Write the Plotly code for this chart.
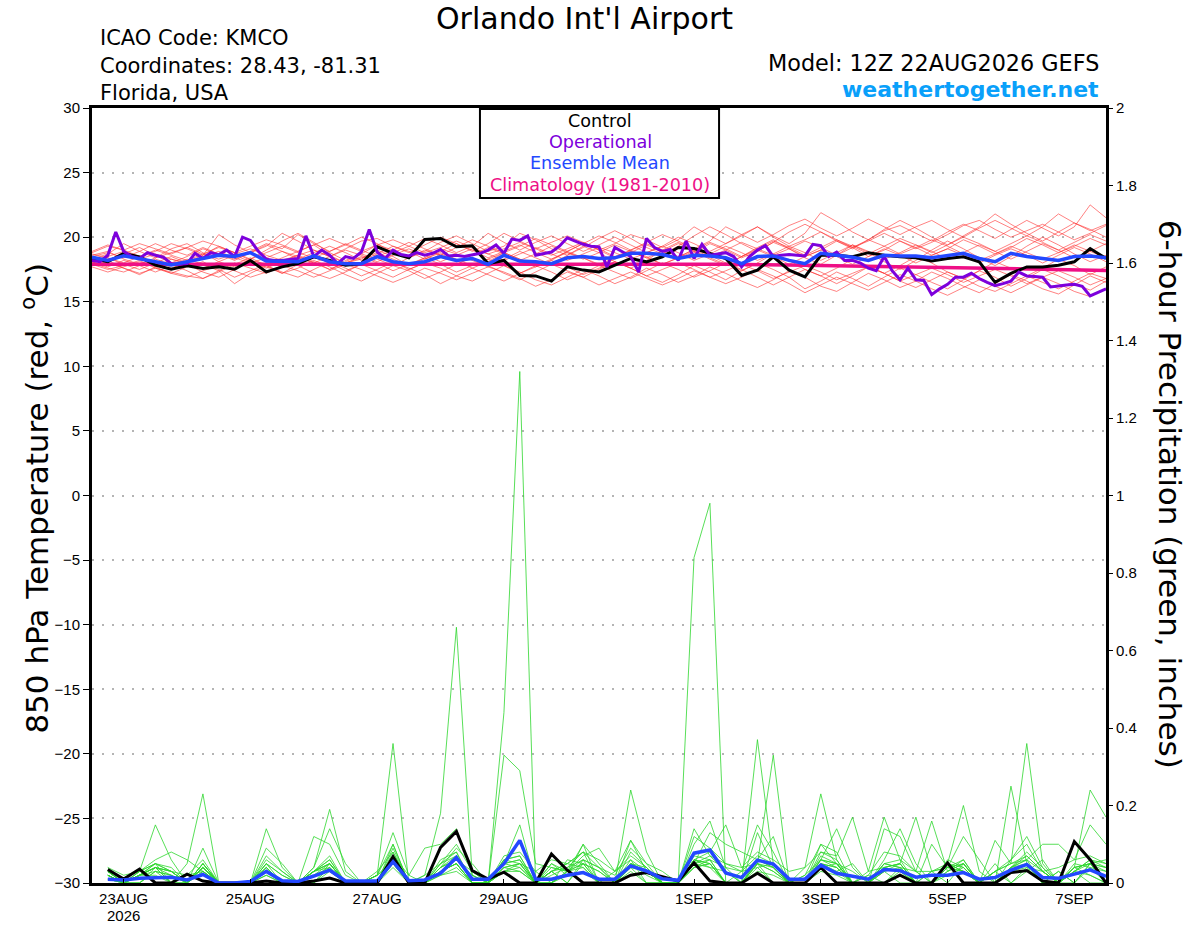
import pandas as pd
import plotly.graph_objects as go

# ---- data ----
t_times = pd.date_range("2026-08-22 12:00", periods=65, freq="6h")     # 850 hPa temp, 6-hourly
p_times = pd.date_range("2026-08-22 18:00", periods=64, freq="6h")     # 6-h precip
op_times = pd.date_range("2026-08-22 12:00", periods=129, freq="3h")   # operational, 3-hourly
clim_times = pd.date_range("2026-08-22 12:00", periods=17, freq="1D")

tick_dates = ["2026-08-23", "2026-08-25", "2026-08-27", "2026-08-29",
              "2026-09-01", "2026-09-03", "2026-09-05", "2026-09-07"]
tick_text = ["23AUG", "25AUG", "27AUG", "29AUG", "1SEP", "3SEP", "5SEP", "7SEP"]
year_label = "2026"

control_temp = [18.35, 18.1, 18.74, 18.48, 17.83, 17.52, 17.78, 17.58, 17.7, 17.52, 18.2, 17.31, 17.7,
                17.96, 18.48, 18.2, 17.83, 17.96, 19.25, 18.74, 18.4, 19.82, 19.9, 19.25, 19.33,
                17.96, 18.2, 17.04, 17.0, 16.6, 17.7, 17.45, 17.31, 17.83, 18.35, 18.09, 18.48,
                19.2, 19.12, 18.74, 18.35, 17.04, 17.45, 18.48, 17.45, 16.93, 18.6, 18.6, 18.48,
                18.8, 18.6, 18.48, 18.4, 18.15, 18.35, 18.48, 18.09, 16.5, 17.2, 17.7, 17.7,
                17.83, 18.09, 19.12, 18.35]

mean_temp = [18.45, 18.2, 18.55, 18.35, 18.1, 17.85, 18.1, 18.35, 18.6, 18.5, 18.8, 18.15, 18.1,
             18.1, 18.55, 18.1, 17.95, 17.95, 18.5, 18.1, 17.95, 18.1, 18.5, 18.2, 18.35,
             17.9, 18.6, 18.15, 18.1, 17.95, 18.4, 18.5, 18.35, 18.4, 18.75, 18.75, 18.65,
             18.35, 18.6, 18.55, 18.4, 17.95, 18.5, 18.55, 18.2, 17.95, 18.75, 18.6, 18.45,
             18.2, 18.6, 18.55, 18.55, 18.4, 18.55, 18.75, 18.35, 18.1, 18.75, 18.5, 18.35,
             18.2, 18.5, 18.55, 18.4]

oper_temp = [18.2, 18.1, 18.6, 20.4, 18.9, 18.5, 18.35, 18.8, 18.6, 18.45,
             17.95, 17.9, 17.95, 18.75, 18.35, 18.8, 18.65, 19.0, 18.5, 20.0,
             19.75, 18.9, 18.3, 18.2, 18.2, 18.3, 18.35, 20.1, 18.5, 19.0,
             18.6, 17.95, 18.5, 18.35, 18.85, 20.6, 18.85, 18.35, 19.0, 18.65,
             18.55, 18.8, 18.6, 18.75, 19.05, 18.55, 18.6, 18.5, 18.6, 18.75,
             19.0, 19.4, 18.75, 19.85, 19.75, 20.1, 18.6, 18.7, 18.85, 19.3,
             19.95, 19.7, 19.45, 19.3, 19.25, 17.7, 19.2, 18.85, 18.5, 17.3,
             19.9, 19.2, 18.9, 19.05, 18.2, 19.7, 18.35, 19.45, 18.6, 18.7,
             18.8, 18.5, 17.7, 18.5, 19.0, 19.35, 18.5, 18.6, 18.65, 18.6,
             18.55, 19.45, 19.35, 18.5, 18.85, 18.2, 18.2, 18.0, 17.6, 17.4,
             18.5, 17.4, 16.7, 17.6, 16.7, 16.65, 15.55, 16.0, 16.35, 16.9,
             16.9, 17.2, 16.8, 16.5, 16.25, 16.4, 16.6, 17.3, 17.0, 16.95,
             16.9, 16.15, 16.25, 16.3, 16.35, 16.2, 15.45, 15.75, 16.0]

clim_temp = [17.9, 17.9, 17.9, 17.92, 17.93, 17.93, 17.93, 17.93, 17.93, 17.92,
             17.9, 17.85, 17.78, 17.7, 17.62, 17.52, 17.42]

t01 = [18.2, 18.5, 18.9, 18.4, 17.8, 17.6, 18.1, 18.6, 19.3, 18.8, 18.2, 17.9, 18.4,
       18.9, 19.4, 18.6, 18.0, 18.3, 19.0, 18.5, 17.8, 18.4, 19.1, 18.7, 18.2, 17.7,
       18.3, 18.9, 18.4, 17.9, 18.6, 19.3, 18.8, 18.1, 17.6, 18.2, 19.0, 19.6, 18.9,
       18.3, 17.8, 18.5, 19.2, 19.8, 19.1, 18.4, 17.9, 18.6, 19.4, 18.8, 18.1, 17.5,
       18.2, 19.0, 19.7, 19.1, 18.4, 17.8, 18.5, 19.3, 20.0, 19.4, 18.7, 18.1, 18.6]
t02 = [18.6, 18.9, 18.3, 17.9, 18.4, 19.1, 19.5, 18.8, 18.1, 17.7, 18.3, 19.0, 19.7,
       20.3, 19.6, 18.8, 18.2, 18.7, 19.4, 19.0, 18.4, 18.9, 19.6, 20.1, 19.5, 18.9,
       19.3, 20.3, 19.8, 19.1, 18.6, 19.2, 19.9, 20.5, 19.9, 19.2, 18.7, 19.3, 20.1,
       20.8, 20.2, 19.5, 18.9, 19.6, 20.4, 21.0, 20.4, 19.7, 19.1, 19.8, 20.6, 21.3,
       20.7, 20.0, 19.4, 20.1, 20.8, 21.8, 21.0, 20.3, 19.7, 20.4, 21.1, 20.6, 20.0]
t03 = [17.9, 17.5, 17.8, 18.2, 17.6, 17.2, 17.7, 18.1, 17.5, 16.9, 17.4, 17.9, 18.3,
       17.8, 17.2, 16.8, 17.3, 17.9, 17.4, 16.9, 17.5, 18.0, 17.6, 17.0, 16.6, 17.2,
       17.8, 17.3, 16.7, 16.3, 16.9, 17.5, 17.0, 16.4, 16.9, 17.6, 17.1, 16.5, 17.0,
       17.7, 17.2, 16.6, 16.1, 16.7, 17.4, 16.9, 16.2, 15.8, 16.5, 17.2, 16.7, 16.1,
       16.6, 17.3, 16.8, 16.2, 15.7, 16.4, 17.1, 16.6, 16.0, 15.6, 16.3, 17.0, 16.5]
t04 = [18.8, 19.3, 19.0, 18.5, 18.9, 19.5, 19.1, 18.6, 20.2, 19.4, 18.8, 19.3, 20.3,
       19.7, 19.0, 18.5, 19.1, 19.7, 19.9, 19.3, 18.8, 19.4, 20.0, 19.5, 18.9, 19.5,
       20.3, 19.7, 19.1, 19.6, 20.1, 19.6, 19.0, 19.5, 20.2, 19.8, 19.2, 19.8, 20.8,
       20.1, 19.5, 20.2, 20.8, 20.1, 19.5, 20.3, 21.9, 21.2, 20.4, 19.8, 20.5, 20.9,
       20.3, 19.7, 20.4, 21.0, 20.5, 19.9, 20.6, 21.3, 20.7, 20.1, 20.8, 22.5, 21.5]
t05 = [18.0, 17.6, 17.3, 17.8, 18.3, 17.9, 17.4, 16.8, 17.3, 17.9, 18.4, 17.8, 17.2,
       17.6, 18.2, 17.7, 17.1, 16.6, 17.2, 17.8, 17.4, 16.8, 17.3, 17.9, 18.4, 17.8,
       17.2, 16.7, 17.3, 17.9, 17.4, 16.9, 17.5, 18.1, 17.6, 17.0, 16.5, 17.1, 17.8,
       17.3, 16.7, 17.4, 18.0, 17.5, 16.9, 16.0, 16.6, 17.3, 16.8, 16.2, 16.9, 17.6,
       17.1, 16.5, 16.0, 16.7, 17.4, 16.9, 16.2, 16.8, 17.5, 17.0, 16.4, 15.9, 16.6]
t06 = [18.4, 18.1, 18.7, 19.2, 18.6, 18.0, 18.5, 19.1, 18.7, 18.2, 18.8, 19.4, 18.9,
       18.3, 18.8, 19.3, 18.8, 18.2, 18.7, 19.3, 18.9, 18.3, 18.9, 19.5, 19.0, 18.4,
       18.9, 19.4, 18.8, 18.3, 18.9, 19.5, 19.0, 18.4, 18.8, 19.4, 18.9, 18.3, 18.8,
       19.5, 19.0, 18.4, 18.9, 19.6, 19.1, 18.5, 19.0, 19.7, 19.2, 18.5, 19.0, 19.7,
       19.2, 18.6, 19.1, 19.8, 19.3, 18.7, 19.2, 19.9, 19.4, 18.8, 19.3, 19.9, 19.4]
t07 = [17.8, 18.2, 17.6, 17.1, 17.7, 18.3, 17.9, 17.3, 16.9, 17.5, 18.1, 17.7, 17.2,
       17.9, 18.5, 18.0, 17.4, 17.9, 18.6, 18.1, 17.5, 18.0, 18.7, 18.2, 17.6, 18.1,
       18.8, 18.3, 17.7, 18.2, 18.9, 18.4, 17.8, 18.3, 19.0, 18.5, 17.9, 18.4, 19.1,
       18.6, 18.0, 17.4, 18.0, 18.7, 18.2, 17.5, 17.0, 17.6, 18.3, 17.8, 17.2, 17.8,
       18.5, 18.0, 17.3, 16.8, 17.4, 18.1, 17.6, 17.0, 17.6, 18.3, 17.8, 17.1, 17.7]
t08 = [18.5, 18.8, 18.4, 18.9, 19.5, 19.0, 18.6, 19.2, 18.7, 18.3, 18.9, 19.5, 19.1,
       20.2, 19.5, 18.9, 19.4, 20.0, 19.5, 18.8, 19.3, 19.9, 19.4, 18.8, 19.3, 20.3,
       19.6, 19.0, 19.6, 20.1, 19.5, 18.9, 19.4, 20.0, 19.4, 18.8, 19.3, 20.0, 19.5,
       18.9, 19.5, 20.1, 20.8, 20.0, 19.3, 19.8, 20.4, 19.8, 19.2, 19.7, 20.3, 19.7,
       19.1, 19.6, 20.2, 20.9, 21.3, 20.6, 20.0, 20.5, 21.0, 20.4, 19.8, 20.3, 20.9]
t09 = [18.1, 17.7, 18.2, 17.8, 17.3, 17.8, 18.3, 17.9, 17.4, 16.4, 17.2, 17.8, 17.3,
       16.9, 17.5, 18.1, 17.6, 17.0, 17.5, 18.1, 17.6, 17.1, 16.4, 17.0, 17.6, 17.1,
       16.6, 17.2, 17.8, 17.3, 16.7, 17.2, 17.8, 17.3, 16.8, 17.4, 18.0, 17.5, 16.9,
       17.4, 18.0, 17.5, 16.9, 16.3, 16.9, 17.5, 17.0, 16.4, 17.0, 17.7, 17.2, 16.6,
       16.1, 16.7, 17.3, 16.8, 16.2, 15.8, 16.4, 17.0, 16.5, 16.0, 16.6, 17.2, 16.8]
t10 = [18.3, 18.0, 17.6, 17.2, 17.6, 17.3, 17.0, 16.8, 17.4, 18.0, 17.6, 17.2, 17.8,
       18.4, 18.0, 17.5, 18.1, 18.7, 18.3, 17.8, 18.4, 19.0, 18.6, 18.1, 18.6, 19.2,
       18.7, 18.2, 18.7, 19.3, 18.8, 18.3, 18.8, 19.4, 18.9, 18.4, 18.9, 19.5, 19.0,
       18.5, 19.0, 19.6, 19.1, 18.6, 19.1, 19.7, 19.2, 18.6, 19.2, 19.8, 19.3, 18.7,
       19.2, 19.8, 19.3, 18.7, 18.2, 18.7, 19.3, 18.8, 18.3, 18.8, 19.4, 18.9, 18.4]
t11 = [18.7, 18.4, 18.0, 18.5, 19.0, 18.6, 18.2, 18.7, 19.2, 18.8, 18.3, 18.8, 19.3,
       18.8, 18.4, 18.9, 19.5, 19.0, 18.5, 19.0, 19.6, 19.1, 18.6, 19.2, 19.8, 19.3,
       18.8, 19.3, 19.9, 19.4, 18.9, 19.5, 20.1, 19.6, 19.0, 19.6, 20.2, 19.7, 19.1,
       19.7, 20.8, 20.2, 19.6, 20.2, 20.9, 21.4, 20.7, 20.1, 20.7, 21.4, 20.8, 20.2,
       20.8, 21.3, 20.6, 20.0, 20.7, 21.3, 20.7, 20.1, 20.8, 21.8, 21.1, 20.5, 21.0]
t12 = [17.7, 17.3, 17.7, 18.1, 17.7, 17.2, 16.9, 17.4, 17.8, 17.4, 16.9, 17.3, 17.8,
       17.4, 16.9, 17.4, 17.9, 17.5, 17.0, 16.5, 17.0, 17.6, 17.2, 16.7, 17.2, 17.7,
       17.3, 16.8, 16.2, 16.7, 17.3, 16.9, 16.3, 16.8, 17.3, 16.8, 16.3, 16.8, 17.4,
       16.9, 16.4, 16.9, 17.5, 17.0, 16.4, 15.7, 16.3, 16.9, 16.4, 15.9, 16.5, 17.1,
       16.6, 16.0, 15.5, 16.1, 16.7, 16.2, 15.7, 16.3, 16.9, 16.4, 15.8, 15.4, 16.0]
t13 = [18.5, 18.2, 18.6, 18.3, 18.7, 18.3, 18.0, 18.5, 18.9, 18.4, 18.0, 18.4, 18.9,
       18.5, 18.0, 18.5, 19.0, 18.6, 18.1, 18.6, 19.1, 18.6, 18.1, 18.6, 19.1, 18.7,
       18.2, 18.7, 19.2, 18.7, 18.2, 18.7, 19.2, 18.8, 18.3, 18.8, 19.3, 18.8, 18.2,
       18.7, 19.3, 18.8, 18.2, 18.7, 19.3, 18.8, 18.2, 18.8, 19.4, 18.9, 18.3, 18.8,
       19.4, 18.9, 18.3, 18.8, 19.4, 18.9, 18.3, 18.9, 19.5, 19.0, 18.4, 18.9, 19.5]
t14 = [18.9, 19.4, 19.0, 19.5, 19.1, 18.7, 19.2, 19.7, 19.3, 18.8, 19.3, 19.8, 19.4,
       18.9, 19.4, 19.9, 19.4, 18.9, 19.4, 19.8, 19.3, 18.8, 19.2, 19.7, 19.2, 18.7,
       19.1, 19.6, 19.1, 18.6, 19.1, 19.6, 19.1, 18.5, 19.0, 19.5, 19.0, 18.5, 19.0,
       19.6, 19.1, 18.5, 19.1, 19.7, 19.2, 18.6, 19.2, 19.8, 19.3, 18.7, 19.3, 19.9,
       19.4, 18.8, 19.4, 20.0, 19.5, 18.9, 19.5, 20.1, 19.6, 19.0, 19.6, 20.2, 19.7]
t15 = [18.0, 18.4, 17.9, 17.5, 18.0, 18.5, 18.0, 17.6, 18.1, 18.6, 18.1, 17.6, 18.1,
       18.6, 18.1, 17.5, 18.0, 18.5, 18.0, 17.4, 17.9, 18.4, 17.9, 17.3, 17.8, 18.3,
       17.8, 17.2, 17.7, 18.2, 17.7, 17.1, 17.6, 18.1, 17.6, 17.0, 17.5, 18.0, 17.5,
       16.9, 17.4, 17.9, 17.4, 16.8, 17.3, 17.8, 17.3, 16.7, 17.2, 17.7, 17.2, 16.6,
       17.1, 17.6, 17.1, 16.5, 17.0, 17.5, 17.0, 16.4, 16.9, 17.4, 16.9, 16.3, 16.8]
t16 = [18.3, 18.7, 19.5, 18.9, 18.4, 18.8, 19.2, 18.7, 18.3, 18.7, 19.1, 18.6, 18.2,
       18.6, 19.0, 18.5, 18.0, 18.4, 18.8, 18.3, 17.8, 18.3, 18.8, 18.3, 17.8, 18.3,
       18.8, 18.3, 17.8, 18.3, 18.8, 18.4, 17.9, 18.4, 18.9, 18.4, 17.9, 18.4, 18.9,
       18.4, 17.9, 18.5, 19.0, 18.5, 17.9, 18.5, 19.0, 18.5, 17.9, 18.5, 19.1, 18.6,
       18.0, 18.6, 19.1, 18.6, 18.0, 18.6, 19.1, 18.6, 18.0, 18.6, 19.2, 18.7, 18.1]
temp_members = [t01, t02, t03, t04, t05, t06, t07, t08, t09, t10, t11, t12, t13, t14, t15, t16]

control_precip = [.035, .01, .036, 0, 0, .023, .005, 0, 0, 0, .005, 0, 0, .005, .013, 0,
                  0, 0, .068, 0, 0, .092, .133, .032, .01, .028, 0, 0, .075, .033, 0, 0,
                  0, .02, .027, .016, .005, .052, .005, 0, 0, .025, 0, 0, 0, .04, 0, 0,
                  0, 0, .02, 0, 0, .052, 0, 0, 0, .027, .032, .005, 0, .107, .06, 0]

mean_precip = [.01, .008, .012, .014, .015, .008, .022, 0, 0, .004, .03, .006, .004, .018, .033, .005,
               .004, .005, .055, .006, .008, .025, .066, .01, .01, .05, .11, .01, .01, .02, .027, .01,
               .01, .044, .031, .011, .007, .077, .085, .026, .014, .059, .049, .01, .01, .046, .025, .018,
               .01, .035, .032, .015, .02, .02, .027, .01, .014, .033, .048, .014, .012, .023, .034, .017]

p01 = [.02, 0, 0, .03, 0, 0, .04, 0, 0, 0, .05, 0, 0, 0, .03, 0,
       0, 0, .07, 0, 0, .03, .05, 0, 0, .44, 1.32, 0, .03, 0, .05, 0,
       0, .04, 0, 0, 0, .06, .05, 0, 0, .05, 0, 0, 0, .06, .04, 0,
       0, .03, 0, 0, .03, 0, .05, 0, 0, .04, .06, 0, 0, .03, .05, 0]
p02 = [.03, 0, .03, .05, 0, 0, .09, 0, 0, 0, .04, 0, 0, 0, .05, 0,
       0, 0, .10, 0, .02, .18, .66, .02, 0, .06, .05, 0, .02, .04, .08, 0,
       0, .11, .03, 0, 0, .04, .06, 0, .03, .04, 0, 0, 0, .04, .03, .05,
       0, .04, .03, 0, 0, .05, .03, 0, .03, 0, .04, .03, 0, 0, .04, .03]
p03 = [.01, 0, .02, .02, 0, .02, .03, 0, 0, 0, .02, 0, 0, .03, .04, 0,
       0, 0, .05, 0, 0, .02, .04, 0, 0, .03, .04, 0, 0, .02, .03, 0,
       0, .02, .03, 0, 0, .84, .98, 0, 0, .03, .02, 0, 0, .03, .02, 0,
       .02, 0, .03, 0, 0, .02, .04, 0, 0, .03, .05, 0, 0, .03, .02, 0]
p04 = [.04, 0, .03, .15, .06, 0, .05, 0, 0, 0, .03, 0, 0, .03, .05, 0,
       0, .02, .36, 0, 0, .04, .06, .03, 0, .05, .04, 0, .05, .03, .10, 0,
       .03, .06, 0, 0, 0, .05, .04, 0, 0, .13, .04, 0, .02, .10, .05, 0,
       0, .14, .12, .03, 0, .04, .03, 0, .05, 0, .03, .06, 0, .04, .02, 0]
p05 = [.02, 0, .02, .04, 0, .05, .23, 0, 0, 0, .04, 0, 0, .02, .04, 0,
       0, 0, .04, 0, 0, .03, .05, 0, 0, .04, .05, 0, .03, .05, .04, 0,
       0, .03, 0, 0, 0, .06, .04, .03, 0, .37, .05, 0, 0, .05, .03, 0,
       0, .03, .04, 0, 0, .03, .05, 0, 0, .03, .05, 0, .03, 0, .05, .04]
p06 = [.03, 0, .02, .05, .03, 0, .04, 0, 0, 0, .05, .02, 0, .04, .19, .03,
       0, 0, .06, 0, 0, .05, .08, 0, 0, .03, .05, 0, 0, .03, .05, .03,
       0, .05, .03, 0, 0, .05, .07, .03, 0, .05, .33, 0, 0, .07, .05, 0,
       0, .05, .04, 0, .03, .05, 0, 0, 0, .04, .08, .04, 0, .03, .06, .05]
p07 = [.01, 0, .02, .03, .02, 0, .03, 0, 0, 0, .02, 0, 0, .02, .03, 0,
       0, 0, .05, 0, 0, .02, .03, 0, 0, .03, .03, 0, 0, .03, .04, 0,
       0, .24, .08, 0, 0, .04, .05, 0, 0, .05, .03, 0, .04, .23, .06, 0,
       0, 0, .04, .03, 0, .03, .06, 0, 0, .03, .04, 0, 0, .03, 0, 0]
p08 = [.02, 0, .02, .04, .03, 0, .05, 0, 0, 0, .14, .04, 0, .03, .06, 0,
       0, 0, .07, 0, 0, .04, .06, .02, 0, .05, .06, 0, 0, .06, .05, 0,
       0, .05, .04, 0, 0, .05, .06, 0, 0, .06, .04, 0, 0, .04, .05, 0,
       0, .04, .05, 0, 0, .06, .04, 0, .03, .05, .36, .05, 0, .04, .05, 0]
p09 = [.01, 0, 0, .03, .02, 0, .04, 0, 0, 0, .03, 0, 0, 0, .04, 0,
       0, .02, .06, 0, 0, .03, .05, 0, 0, .04, .03, 0, .03, 0, .06, .04,
       0, .05, .03, 0, 0, .06, .05, 0, 0, .04, .05, 0, 0, .05, .04, 0,
       0, .04, .05, 0, 0, .05, .03, 0, 0, .25, .05, 0, 0, .04, .24, .17]
p10 = [.03, 0, .02, .04, 0, 0, .05, 0, 0, 0, .04, 0, 0, .03, .05, 0,
       0, 0, .08, 0, 0, .04, .07, 0, 0, .06, .07, 0, .03, .04, .06, .04,
       0, .06, .03, 0, 0, .10, .16, .04, 0, .06, .04, 0, 0, .06, .05, 0,
       .03, .17, .06, 0, 0, .05, .20, .03, 0, .04, .06, .03, 0, .05, .04, 0]
p11 = [.02, 0, 0, .04, .03, 0, .03, 0, 0, 0, .03, 0, 0, .02, .05, 0,
       0, .02, .05, 0, 0, .03, .05, 0, 0, .04, .05, .03, 0, .03, .05, .03,
       0, .05, .02, 0, 0, .06, .08, .15, .04, .05, .03, 0, 0, .08, .07, .17,
       .03, .04, .05, .17, .03, .04, .05, 0, 0, .04, .07, .03, 0, .04, .05, .03]
p12 = [.02, 0, .02, .04, .03, 0, .05, 0, 0, 0, .05, .02, 0, .03, .05, 0,
       0, .02, .13, .02, 0, .05, .10, .03, 0, .05, .06, 0, .03, .05, .08, .06,
       .03, .11, .05, 0, 0, .07, .06, .04, .03, .15, .08, 0, 0, .06, .14, .04,
       0, .05, .06, .03, .16, .03, .05, 0, .03, .06, .12, .04, 0, .03, .06, .04]
p13 = [.03, 0, .02, .05, .04, 0, .04, 0, 0, 0, .06, .03, 0, .12, .10, .02,
       0, 0, .09, 0, .02, .05, .07, 0, 0, .06, .07, 0, .04, .03, .07, .09,
       .03, .07, .04, 0, 0, .14, .07, .05, .03, .07, .05, 0, .02, .06, .05, .03,
       0, .06, .14, .05, 0, .04, .06, 0, .11, .05, .07, .03, 0, .04, .05, .04]
p14 = [.02, 0, .02, .04, .02, 0, .04, 0, 0, 0, .09, .05, 0, .03, .07, 0,
       0, 0, .07, .02, .09, .10, .14, .02, 0, .05, .15, 0, .05, .02, .10, .05,
       0, .08, .04, 0, 0, .05, .13, .10, .08, .06, .12, 0, 0, .10, .08, 0,
       0, .05, .04, 0, .10, .04, .03, 0, .03, .05, .06, .10, .10, .06, .15, .10]
p15 = [.04, .02, .03, .05, .03, .02, .06, 0, 0, 0, .07, .03, 0, .04, .14, .05,
       0, .02, .10, 0, 0, .04, .09, .05, 0, .07, .08, .03, .06, .05, .08, .04,
       .02, .09, .05, .03, 0, .12, .09, .05, .04, .08, .06, .03, .04, .08, .06, 0,
       .02, .08, .07, .03, .03, .04, .12, .06, 0, .06, .10, .03, .04, .06, .07, .05]
p16 = [.03, 0, .03, .06, .08, .06, .03, 0, 0, 0, .04, 0, 0, .03, .06, 0,
       0, .03, .08, 0, 0, .06, .08, 0, 0, .33, .29, .05, .04, .03, .06, 0,
       0, .04, .03, 0, 0, .04, .05, 0, 0, .05, .04, 0, 0, .05, .04, 0,
       0, .03, .05, 0, 0, .05, .04, 0, 0, .04, .05, 0, .03, 0, .05, .06]
precip_members = [p01, p02, p03, p04, p05, p06, p07, p08, p09, p10, p11, p12, p13, p14, p15, p16]

for s in temp_members + [control_temp, mean_temp]:
    assert len(s) == len(t_times), len(s)
for s in precip_members + [control_precip, mean_precip]:
    assert len(s) == len(p_times), len(s)
assert len(oper_temp) == len(op_times)

FONT = "Liberation Sans, Arial, Helvetica, sans-serif"
WIDE = "DejaVu Sans, Liberation Sans, sans-serif"
RED = "rgba(255,45,45,0.75)"
GREEN = "rgb(45,215,45)"
PURPLE = "#7d00dc"
BLUE = "#2348ff"
PINK = "#ee0f86"

fig = go.Figure()

for m in temp_members:
    fig.add_trace(go.Scatter(x=t_times, y=m, mode="lines", line=dict(color=RED, width=0.8),
                             showlegend=False, hoverinfo="skip"))
for m in precip_members:
    fig.add_trace(go.Scatter(x=p_times, y=m, mode="lines", line=dict(color=GREEN, width=0.8),
                             yaxis="y2", showlegend=False, hoverinfo="skip"))

# precip: control + mean
fig.add_trace(go.Scatter(x=p_times, y=control_precip, mode="lines", yaxis="y2",
                         line=dict(color="black", width=3), showlegend=False))
fig.add_trace(go.Scatter(x=p_times, y=mean_precip, mode="lines", yaxis="y2",
                         line=dict(color=BLUE, width=3.5), showlegend=False))

# temperature: climatology, control, operational, mean
fig.add_trace(go.Scatter(x=clim_times, y=clim_temp, mode="lines",
                         line=dict(color=PINK, width=3.5), showlegend=False))
fig.add_trace(go.Scatter(x=t_times, y=control_temp, mode="lines",
                         line=dict(color="black", width=3), showlegend=False))
fig.add_trace(go.Scatter(x=op_times, y=oper_temp, mode="lines",
                         line=dict(color=PURPLE, width=3), showlegend=False))
fig.add_trace(go.Scatter(x=t_times, y=mean_temp, mode="lines",
                         line=dict(color=BLUE, width=3.5), showlegend=False))

# legend box
fig.add_shape(type="rect", xref="paper", yref="paper", x0=0.3826, x1=0.6184, y0=0.8839, y1=0.9987,
              line=dict(color="black", width=2), fillcolor="white", layer="above")
for txt, col, yy in [("Control", "black", 0.9832), ("Operational", PURPLE, 0.9561),
                     ("Ensemble Mean", BLUE, 0.929), ("Climatology (1981-2010)", PINK, 0.9006)]:
    fig.add_annotation(x=0.501, y=yy, xref="paper", yref="paper", text=txt, showarrow=False,
                       xanchor="center", yanchor="middle", font=dict(color=col, size=17.6, family=WIDE))

# header texts
fig.add_annotation(x=0.486, y=1.116, xref="paper", yref="paper", text="Orlando Int'l Airport",
                   showarrow=False, xanchor="center", yanchor="middle",
                   font=dict(size=30, color="black", family=WIDE))
for txt, yy in [("ICAO Code: KMCO", 1.0903), ("Coordinates: 28.43, -81.31", 1.0542),
                ("Florida, USA", 1.0194)]:
    fig.add_annotation(x=0.0059, y=yy, xref="paper", yref="paper", text=txt, showarrow=False,
                       xanchor="left", yanchor="middle", font=dict(size=21, color="black", family=WIDE))
fig.add_annotation(x=0.995, y=1.058, xref="paper", yref="paper", text="Model: 12Z 22AUG2026 GEFS",
                   showarrow=False, xanchor="right", yanchor="middle",
                   font=dict(size=22.3, color="black", family=WIDE))
fig.add_annotation(x=0.995, y=1.0245, xref="paper", yref="paper", text="<b>weathertogether.net</b>",
                   showarrow=False, xanchor="right", yanchor="middle",
                   font=dict(size=22, color="#09a0fa", family=WIDE))
fig.add_annotation(x=tick_dates[0], y=-0.0413, xref="x", yref="paper", text=year_label,
                   showarrow=False, xanchor="center", yanchor="middle",
                   font=dict(size=15, color="black"))

# axis titles
fig.add_annotation(x=-0.0562, y=0.496, xref="paper", yref="paper",
                   text="850 hPa Temperature (red, <sup>o</sup>C)", textangle=-90, showarrow=False,
                   xanchor="center", yanchor="middle", font=dict(size=31, color="black", family=WIDE))
fig.add_annotation(x=1.063, y=0.501, xref="paper", yref="paper",
                   text="6-hour Precipitation (green, inches)", textangle=90, showarrow=False,
                   xanchor="center", yanchor="middle", font=dict(size=31, color="black", family=WIDE))

fig.update_xaxes(range=["2026-08-22 12:00", "2026-09-07 12:00"], tickmode="array",
                 tickvals=tick_dates, ticktext=tick_text, ticks="inside", ticklen=4,
                 tickwidth=1, tickcolor="black", showgrid=False, showline=True, linewidth=3,
                 linecolor="black", mirror=True, automargin=False,
                 tickfont=dict(size=15, color="black"))
fig.update_layout(
    width=1200, height=927, autosize=False,
    margin=dict(l=92, r=94, t=108, b=44),
    paper_bgcolor="white", plot_bgcolor="white",
    font=dict(family=FONT, color="black"),
    hovermode=False, showlegend=False,
    yaxis=dict(range=[-30, 30], tickvals=list(range(-30, 31, 5)), ticks="outside", ticklen=6,
               tickcolor="black", showline=True, linewidth=3, linecolor="black", mirror=True,
               showgrid=True, gridcolor="#b4b4b4", griddash="2px,8px", gridwidth=1.5,
               zeroline=False, automargin=False, tickfont=dict(size=15, color="black")),
    yaxis2=dict(range=[0, 2], overlaying="y", side="right", dtick=0.2, ticks="outside",
                ticklen=6, tickcolor="black", showgrid=False, zeroline=False, showline=False,
                automargin=False, tickfont=dict(size=15, color="black")),
)

fig.write_html("out.html", config={"displayModeBar": False},
               post_script="document.body.style.margin='0';document.body.style.overflow='hidden';")
